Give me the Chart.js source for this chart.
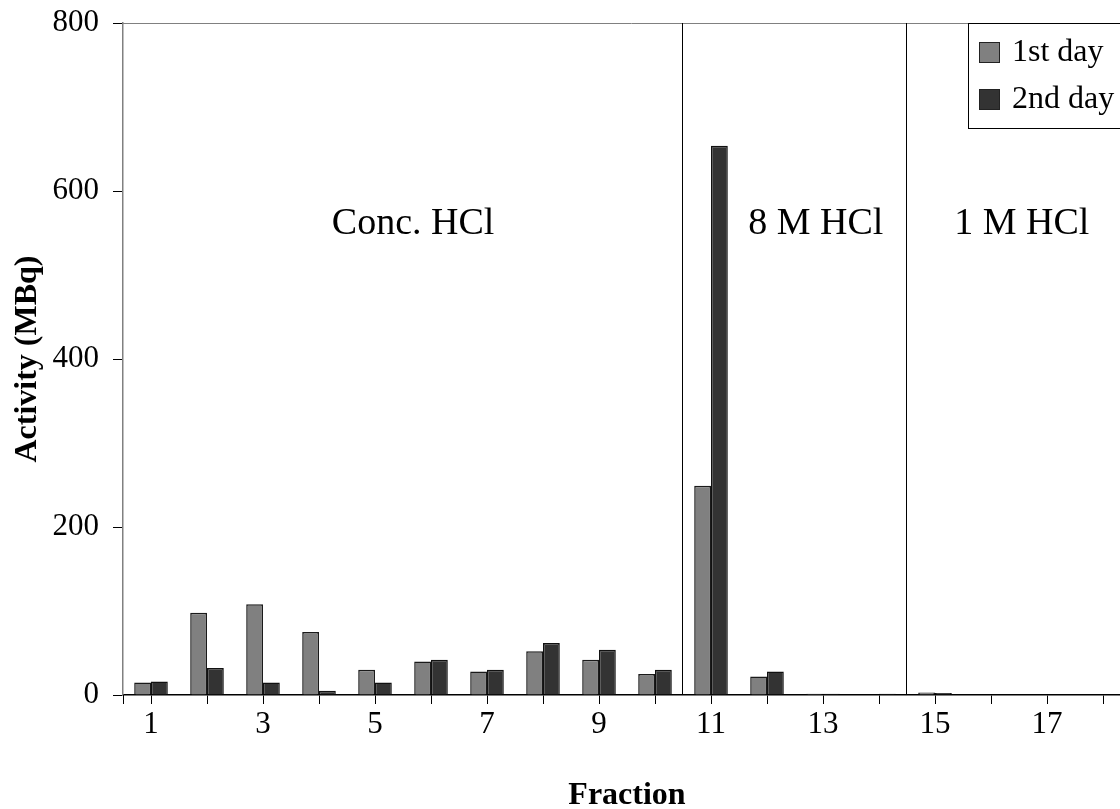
<!DOCTYPE html>
<html>
<head>
<meta charset="utf-8">
<script src="https://cdn.jsdelivr.net/npm/chart.js@4"></script>
<style>
  html, body { margin: 0; padding: 0; background: #fff; overflow: hidden; }
  #wrap { position: absolute; left: 0; top: 0; width: 1140px; height: 809px; }
</style>
</head>
<body>
<div id="wrap"><canvas id="grafico"></canvas></div>
<script>
// Fracciones y actividad medida (MBq)
const fracciones = ['1', '2', '3', '4', '5', '6', '7', '8', '9', '10', '11', '12', '13', '14', '15', '16', '17', '18'];
const dia1 = [15, 98, 108, 75, 30, 40, 28, 52, 42, 25, 249, 22, 1.5, 0, 3, 0, 0, 0];
const dia2 = [16, 32, 15, 5, 15, 42, 30, 62, 54, 30, 654, 28, 1.5, 1.5, 2.5, 0, 0, 0];
const yTicks = [0, 200, 400, 600, 800];

// Zonas de elución: separadores tras la fracción indicada y posición del rótulo
const separadores = [10, 14];
const zonas = [
    { texto: 'Conc. HCl', pos: 4.68 },
    { texto: '8 M HCl', pos: 11.87 },
    { texto: '1 M HCl', pos: 15.55 }
];

const fuente = 'Liberation Serif, Times New Roman, serif';

// Separadores, rótulos, marco superior y leyenda
const anotaciones = {
    id: 'anotaciones',
    afterDatasetsDraw(chart) {
        const ctx = chart.ctx;
        const area = chart.chartArea;
        const x = chart.scales.x;
        const y = chart.scales.y;
        const paso = x.getPixelForValue(1) - x.getPixelForValue(0);

        ctx.save();
        // línea superior del área
        ctx.strokeStyle = '#808080';
        ctx.lineWidth = 1;
        ctx.beginPath();
        ctx.moveTo(area.left, area.top + 0.5);
        ctx.lineTo(chart.width, area.top + 0.5);
        ctx.stroke();

        // marca bajo el origen
        ctx.strokeStyle = '#000';
        ctx.beginPath();
        ctx.moveTo(area.left + 0.5, area.bottom);
        ctx.lineTo(area.left + 0.5, area.bottom + 9);
        ctx.stroke();

        // separadores verticales
        separadores.forEach(s => {
            const px = Math.round(x.getPixelForValue(s - 1) + paso / 2) - 0.5;
            ctx.beginPath();
            ctx.moveTo(px, area.top);
            ctx.lineTo(px, area.bottom);
            ctx.stroke();
        });

        // rótulos de zona
        ctx.fillStyle = '#000';
        ctx.font = '38px ' + fuente;
        ctx.textAlign = 'center';
        ctx.textBaseline = 'alphabetic';
        zonas.forEach(z => {
            const px = x.getPixelForValue(0) + z.pos * paso;
            ctx.fillText(z.texto, px, y.getPixelForValue(549));
        });

        // leyenda
        const lx = 968, ly = area.top;
        ctx.fillStyle = '#fff';
        ctx.fillRect(lx, ly, chart.width - lx, 105);
        ctx.strokeStyle = '#000';
        ctx.strokeRect(lx + 0.5, ly + 0.5, chart.width, 105);
        ctx.font = '32px ' + fuente;
        ctx.textAlign = 'left';
        ctx.textBaseline = 'middle';
        chart.data.datasets.forEach((ds, i) => {
            const cy = ly + 29 + i * 47;
            ctx.fillStyle = ds.backgroundColor;
            ctx.fillRect(lx + 11, cy - 10, 21, 21);
            ctx.strokeStyle = '#222';
            ctx.strokeRect(lx + 11.5, cy - 9.5, 20, 20);
            ctx.fillStyle = '#000';
            ctx.fillText(ds.label, lx + 44, cy + 1);
        });
        ctx.restore();
    }
};

const grafico = new Chart(document.getElementById('grafico'), {
    type: 'bar',
    data: {
        labels: fracciones,
        datasets: [{
            label: '1st day',
            data: dia1,
            backgroundColor: '#808080',
            borderColor: '#1a1a1a',
            borderWidth: 1.5,
            categoryPercentage: 0.6,
            barPercentage: 1
        }, {
            label: '2nd day',
            data: dia2,
            backgroundColor: '#333333',
            borderColor: '#111111',
            borderWidth: 1.5,
            categoryPercentage: 0.6,
            barPercentage: 1
        }]
    },
    options: {
        responsive: true,
        maintainAspectRatio: false,
        animation: false,
        layout: { padding: { top: 23, right: 9, left: 0, bottom: 0 } },
        plugins: {
            legend: { display: false },
            tooltip: { enabled: false }
        },
        scales: {
            x: {
                afterFit: s => { s.height = 114; },
                grid: {
                    offset: false,
                    drawOnChartArea: false,
                    tickLength: 9,
                    color: '#000'
                },
                border: { color: '#000', width: 1.5 },
                ticks: {
                    autoSkip: false,
                    maxRotation: 0,
                    padding: 2,
                    color: '#000',
                    font: { family: fuente, size: 31 },
                    callback: (v, i) => (i % 2 === 0 ? fracciones[i] : '')
                },
                title: {
                    display: true,
                    text: 'Fraction',
                    color: '#000',
                    font: { family: fuente, size: 32, weight: 'bold', lineHeight: 0.8 },
                    padding: { top: 0, bottom: 0 }
                }
            },
            y: {
                min: 0,
                max: 800,
                afterFit: s => {
                    s.width = 123;
                    s.paddingTop = 0;
                    s.paddingBottom = 0;
                },
                afterBuildTicks: s => { s.ticks = yTicks.map(v => ({ value: v })); },
                grid: {
                    drawOnChartArea: false,
                    tickLength: 10,
                    color: '#000'
                },
                border: { color: '#808080', width: 1.5 },
                ticks: {
                    padding: 14,
                    color: '#000',
                    font: { family: fuente, size: 31 }
                },
                title: {
                    display: true,
                    text: 'Activity (MBq)',
                    color: '#000',
                    font: { family: fuente, size: 32, weight: 'bold' },
                    padding: { top: 9, bottom: 0 }
                }
            }
        }
    },
    plugins: [anotaciones]
});
</script>
</body>
</html>
